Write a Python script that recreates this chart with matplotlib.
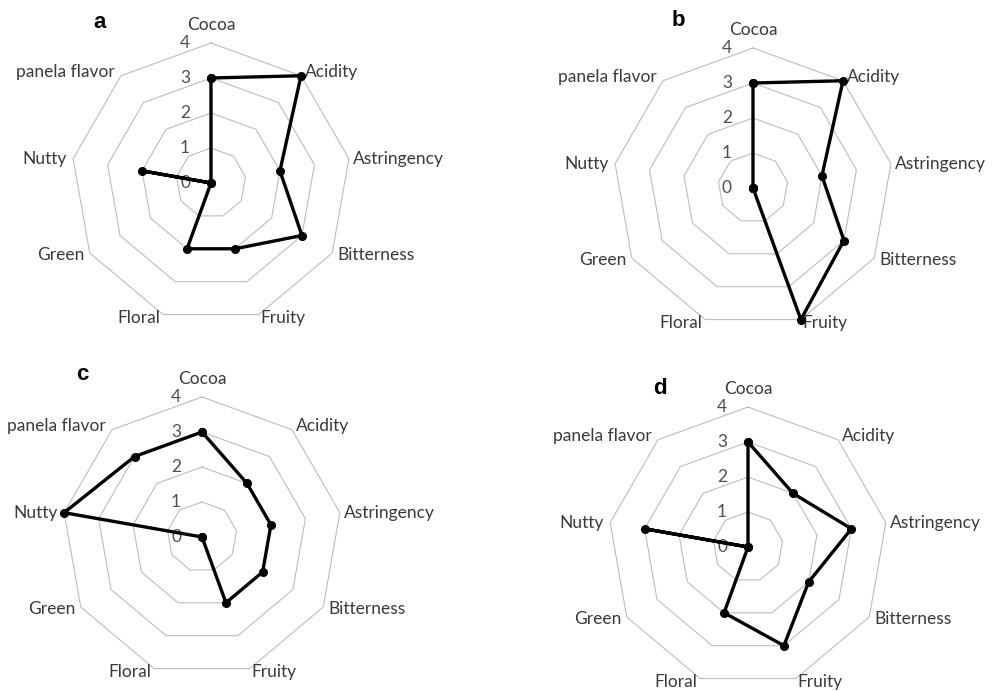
import numpy as np
import matplotlib

matplotlib.use("Agg")
import matplotlib.pyplot as plt

# -----------------------------
# Sensory attributes and panel scores
# -----------------------------
categories = ["Cocoa", "Acidity", "Astringency", "Bitterness", "Fruity",
              "Floral", "Green", "Nutty", "panela flavor"]
scale_ticks = [0, 1, 2, 3, 4]

scores_a = [3, 4, 2, 3, 2, 2, 0, 2, 0]
scores_b = [3, 4, 2, 3, 4, 0, 0, 0, 0]
scores_c = [3, 2, 2, 2, 2, 0, 0, 4, 3]
scores_d = [3, 2, 3, 2, 3, 2, 0, 3, 0]

panels = [("a", scores_a), ("b", scores_b), ("c", scores_c), ("d", scores_d)]

# -----------------------------
# Layout (pixels) and label styling
# -----------------------------
fig_w, fig_h = 994, 691
centers = {"a": (211, 183), "b": (753, 188), "c": (202, 537), "d": (748, 547)}
radius_px = 140
letter_pos = {"a": (100, 22), "b": (678, 20), "c": (82, 375), "d": (660, 388)}

# per-label (dx, dy, ha) offsets in pixels from the outer vertex
label_style = [(0, 18, "center"), (4, 4, "left"), (4, 0, "left"),
               (5, -2, "left"), (1, -3, "left"), (-3, -3, "right"),
               (-5, -2, "right"), (-6, 0, "right"), (-6, 4, "right")]

text_color = "#3a3a3a"
grid_color = "#bdbdbd"
font = "Lato"

n = len(categories)
theta = np.arange(n) * 2 * np.pi / n
theta_closed = np.append(theta, theta[0])

fig = plt.figure(figsize=(fig_w / 100, fig_h / 100), dpi=100)

for name, scores in panels:
    cx, cy = centers[name]
    rect = [(cx - radius_px) / fig_w, (fig_h - cy - radius_px) / fig_h,
            2 * radius_px / fig_w, 2 * radius_px / fig_h]
    ax = fig.add_axes(rect, projection="polar")
    ax.set_theta_zero_location("N")
    ax.set_theta_direction(-1)
    ax.set_ylim(0, 4)
    ax.grid(False)
    ax.set_xticks([])
    ax.set_yticks([])
    ax.spines["polar"].set_visible(False)
    ax.patch.set_alpha(0)

    # polygon grid rings
    for t in scale_ticks[1:]:
        ax.plot(theta_closed, [t] * (n + 1), color=grid_color, lw=0.8,
                zorder=1, clip_on=False)

    # scale labels along the Cocoa axis
    for t in scale_ticks:
        ax.annotate(str(t), xy=(0, t), xytext=(-26, 0),
                    textcoords="offset pixels", ha="center", va="center",
                    fontsize=12.5, color="#505050", family=font,
                    annotation_clip=False)

    # category labels
    for ang, cat, (dx, dy, ha) in zip(theta, categories, label_style):
        ax.annotate(cat, xy=(ang, 4), xytext=(dx, dy),
                    textcoords="offset pixels", ha=ha, va="center",
                    fontsize=12.5, color=text_color, family=font,
                    annotation_clip=False)

    values = list(scores) + [scores[0]]
    ax.plot(theta_closed, values, color="black", lw=2.4, marker="o",
            markersize=5.5, zorder=3, clip_on=False)

    lx, ly = letter_pos[name]
    fig.text(lx / fig_w, 1 - ly / fig_h, name, ha="center", va="center",
             fontsize=16, fontweight="bold", family="Liberation Sans")

fig.savefig("out.png", dpi=100, facecolor="white")
